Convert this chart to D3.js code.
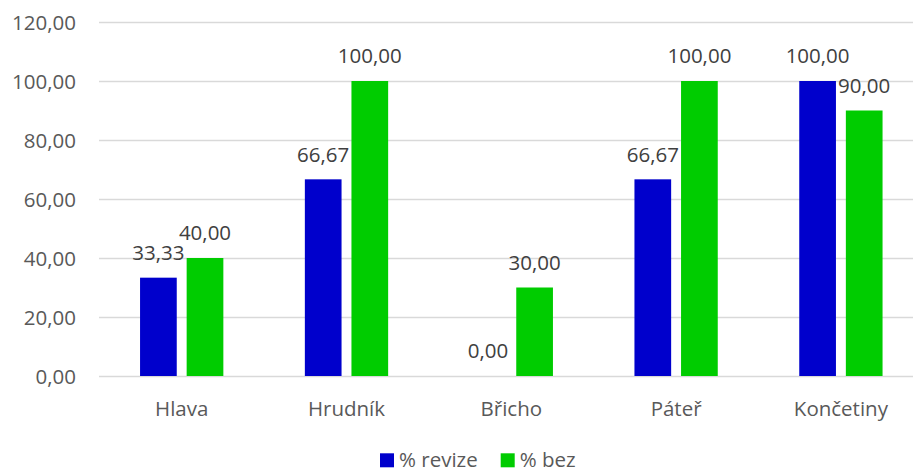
<!DOCTYPE html>
<html>
<head>
<meta charset="utf-8">
<script src="https://cdn.jsdelivr.net/npm/d3@7"></script>
<style>
  html, body { margin: 0; padding: 0; background: #ffffff; }
  svg { display: block; font-family: "Open Sans", "DejaVu Sans", sans-serif; }
</style>
</head>
<body>
<svg id="chart" width="913" height="468"></svg>
<script>
// Categories (body regions) and the two percentage series
const categories = ["Hlava", "Hrudník", "Břicho", "Páteř", "Končetiny"];
const seriesNames = ["% revize", "% bez"];
const revize = [33.33, 66.67, 0.00, 66.67, 100.00];
const bez = [40.00, 100.00, 30.00, 100.00, 90.00];
const yTicks = [0, 20, 40, 60, 80, 100, 120];
const colors = ["#0000CC", "#00CC00"];

const series = [revize, bez];
const fmt = v => v.toFixed(2).replace(".", ",");
const FONT = "'Open Sans', 'DejaVu Sans', sans-serif";
const FS = 20.5;

const svg = d3.select("#chart");

const x0 = d3.scaleBand().domain(categories).range([99.3, 923.3]).padding(0);
const groupW = 83.3;
const groupOff = (x0.bandwidth() - groupW) / 2;
const x1 = d3.scaleBand().domain(seriesNames)
  .range([groupOff, groupOff + groupW]).paddingInner(0.2125).paddingOuter(0);
const y = d3.scaleLinear().domain([0, 120]).range([376, 22]);

// Horizontal gridlines and value axis labels
const yAxis = d3.axisLeft(y).tickValues(yTicks).tickSize(-(913 - 99)).tickFormat(fmt).tickPadding(23);
const gy = svg.append("g").attr("transform", "translate(99,0)").call(yAxis);
gy.select(".domain").remove();
gy.selectAll(".tick line").attr("stroke", "#d9d9d9").attr("stroke-width", 1.3);
gy.selectAll(".tick text")
  .attr("fill", "#595959").attr("font-size", FS).attr("dy", "0.36em")
  .attr("font-family", FONT);

// Category labels
const xAxis = d3.axisBottom(x0).tickSize(0).tickPadding(0);
const gx = svg.append("g").attr("transform", "translate(0,376)").call(xAxis);
gx.select(".domain").remove();
gx.selectAll(".tick text")
  .attr("fill", "#595959").attr("font-size", FS).attr("y", 39.5).attr("dy", 0)
  .attr("font-family", FONT);

// Bars
const groups = svg.append("g").selectAll("g")
  .data(categories).join("g")
  .attr("transform", d => `translate(${x0(d)},0)`);

const cells = groups.selectAll("g.cell")
  .data((c, i) => seriesNames.map((s, j) => ({ s, j, v: series[j][i] })))
  .join("g").attr("class", "cell");

cells.append("rect")
  .attr("x", d => x1(d.s))
  .attr("width", x1.bandwidth())
  .attr("y", d => y(d.v))
  .attr("height", d => y(0) - y(d.v))
  .attr("fill", d => colors[d.j]);

// Value labels above bars
cells.append("text")
  .attr("x", d => x1(d.s) + x1.bandwidth() / 2)
  .attr("y", d => y(d.v) - 17.7)
  .attr("text-anchor", "middle")
  .attr("font-size", FS)
  .attr("fill", "#404040")
  .text(d => fmt(d.v));

// Legend
const legendItems = [
  { name: seriesNames[0], color: colors[0], x: 380 },
  { name: seriesNames[1], color: colors[1], x: 500.7 }
];
const lg = svg.append("g").selectAll("g").data(legendItems).join("g")
  .attr("transform", d => `translate(${d.x},0)`);
lg.append("rect").attr("x", 0).attr("y", 453.3).attr("width", 14).attr("height", 14)
  .attr("fill", d => d.color);
lg.append("text").attr("x", 19).attr("y", 466.8)
  .attr("font-size", FS).attr("fill", "#595959")
  .text(d => d.name);
</script>
</body>
</html>
